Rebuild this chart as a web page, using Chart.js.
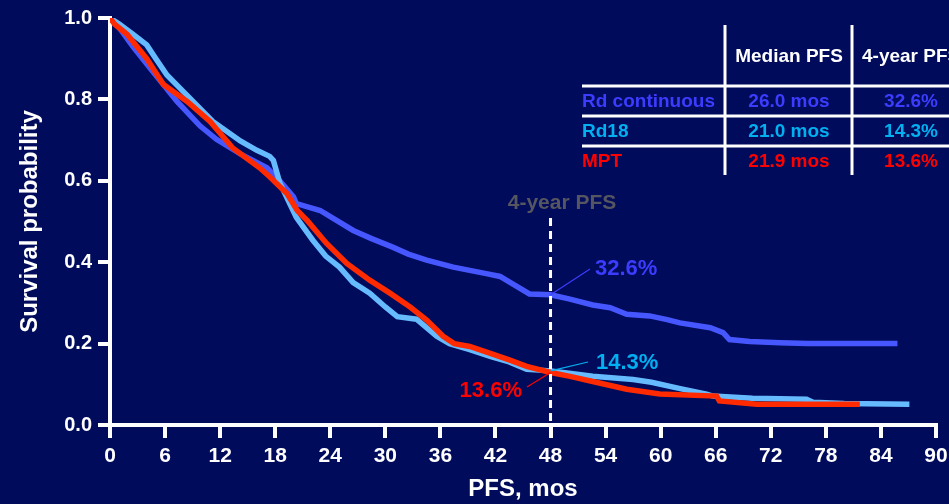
<!DOCTYPE html>
<html>
<head>
<meta charset="utf-8">
<script src="https://cdn.jsdelivr.net/npm/chart.js@4"></script>
<style>
  html, body { margin: 0; padding: 0; background: #010b5b; }
  #wrap { position: relative; width: 949px; height: 504px; }
</style>
</head>
<body>
<div id="wrap"><canvas id="pfsChart"></canvas></div>
<script>
// Kaplan-Meier curves: [month, survival probability]
const rdContinuous = [
  [0, 1.0], [1.1, 0.973], [2.5, 0.93], [4.4, 0.876], [7.3, 0.795], [9.8, 0.735],
  [11.6, 0.702], [14.2, 0.666], [17.1, 0.632], [18.5, 0.6], [20, 0.56], [20.3, 0.544],
  [22.9, 0.527], [24.5, 0.505], [26.5, 0.478], [28.5, 0.458], [30.8, 0.437], [32.5, 0.42],
  [34.5, 0.405], [37.4, 0.388], [41, 0.372], [42.5, 0.365], [44, 0.345], [45.7, 0.322],
  [48, 0.32], [50, 0.31], [52.6, 0.295], [54.5, 0.288], [56.3, 0.272], [58.8, 0.268],
  [60.7, 0.259], [62.1, 0.251], [65.4, 0.239], [66.8, 0.227], [67.5, 0.21], [69.7, 0.205],
  [73, 0.202], [76, 0.2], [85.8, 0.2]
];
const rd18 = [
  [0, 1.0], [1, 0.985], [2.5, 0.96], [4, 0.934], [5, 0.9], [6.2, 0.86], [8.4, 0.81],
  [11.2, 0.746], [14.2, 0.698], [16, 0.675], [17.4, 0.66], [17.8, 0.65], [18.5, 0.595],
  [20.3, 0.51], [22.1, 0.454], [23.5, 0.415], [25, 0.388], [26.5, 0.35], [28.3, 0.324],
  [30, 0.29], [31.3, 0.266], [33.4, 0.26], [35.6, 0.218], [37, 0.2], [39.2, 0.185],
  [41.5, 0.168], [43.5, 0.155], [45.4, 0.137], [48, 0.133], [50, 0.127], [52.6, 0.12],
  [57, 0.112], [59, 0.105], [62, 0.09], [65, 0.076], [65.7, 0.071], [70, 0.066],
  [75.9, 0.063], [76.6, 0.056], [80, 0.053], [87.1, 0.051]
];
const mpt = [
  [0, 1.0], [0.5, 0.985], [1.85, 0.96], [4, 0.9], [5.8, 0.837], [8.4, 0.795],
  [10.9, 0.746], [13.4, 0.68], [16.3, 0.632], [17.4, 0.61], [19.3, 0.568], [20.4, 0.527],
  [21.5, 0.502], [23.6, 0.446], [25.8, 0.397], [28.3, 0.356], [30.5, 0.324], [32.7, 0.29],
  [34.5, 0.258], [36.3, 0.218], [37.5, 0.2], [39.2, 0.193], [41.2, 0.178], [43.5, 0.16],
  [45.4, 0.144], [48, 0.129], [50, 0.12], [52.6, 0.107], [56.3, 0.088], [59.9, 0.076],
  [66.1, 0.071], [66.4, 0.059], [70.5, 0.051], [81.7, 0.051]
];

const seriesNames = ['Rd continuous', 'Rd18', 'MPT'];
const medianPFS = ['26.0 mos', '21.0 mos', '21.9 mos'];
const fourYearPFS = ['32.6%', '14.3%', '13.6%'];
const fourYearValues = [0.32, 0.133, 0.129];
const xTicks = [0, 6, 12, 18, 24, 30, 36, 42, 48, 54, 60, 66, 72, 78, 84, 90];
const landmarkMonth = 48;

const lineColors = ['#4657ff', '#66bbff', '#ff2a00'];
const textColors = ['#3c3cff', '#00b0f0', '#ff0000'];
const FONT = 'Arial, "Liberation Sans", Helvetica, sans-serif';

const toXY = arr => arr.map(p => ({ x: p[0], y: p[1] }));

// table + 4-year landmark annotations
const overlay = {
  id: 'overlay',
  afterDatasetsDraw(chart) {
    const ctx = chart.ctx;
    const xs = chart.scales.x, ys = chart.scales.y;
    const lx = xs.getPixelForValue(landmarkMonth);
    ctx.save();

    // dashed landmark line
    ctx.strokeStyle = '#ffffff';
    ctx.lineWidth = 3;
    ctx.setLineDash([8, 5]);
    ctx.beginPath();
    ctx.moveTo(lx, 218);
    ctx.lineTo(lx, ys.getPixelForValue(0));
    ctx.stroke();
    ctx.setLineDash([]);

    ctx.font = 'bold 21px ' + FONT;
    ctx.fillStyle = '#55565f';
    ctx.textAlign = 'center';
    ctx.textBaseline = 'middle';
    ctx.fillText('4-year PFS', 562, 203);

    // leader lines + labels
    const labelPos = [[595, 269, 590, 269, 'left'], [596, 363, 588, 362, 'left'], [522, 391, 527, 387, 'right']];
    ctx.font = 'bold 22px ' + FONT;
    fourYearPFS.forEach((txt, i) => {
      const py = ys.getPixelForValue(fourYearValues[i]);
      const [tx, ty, ex, ey, al] = labelPos[i];
      ctx.strokeStyle = textColors[i];
      ctx.lineWidth = 1.2;
      ctx.beginPath();
      ctx.moveTo(lx, py);
      ctx.lineTo(ex, ey);
      ctx.stroke();
      ctx.fillStyle = textColors[i];
      ctx.textAlign = al;
      ctx.fillText(txt, tx, ty);
    });

    // summary table
    ctx.strokeStyle = '#ffffff';
    ctx.lineWidth = 3;
    ctx.beginPath();
    [725, 852].forEach(x => { ctx.moveTo(x, 25); ctx.lineTo(x, 175); });
    [86, 116, 146].forEach(y => { ctx.moveTo(582, y); ctx.lineTo(949, y); });
    ctx.stroke();

    ctx.font = 'bold 19px ' + FONT;
    ctx.fillStyle = '#ffffff';
    ctx.textAlign = 'center';
    ctx.fillText('Median PFS', 789, 57);
    ctx.textAlign = 'left';
    ctx.fillText('4-year PFS', 862, 57);

    const rowY = [102, 132, 162];
    seriesNames.forEach((name, i) => {
      ctx.fillStyle = textColors[i];
      ctx.textAlign = 'left';
      ctx.fillText(name, 582, rowY[i]);
      ctx.textAlign = 'center';
      ctx.fillText(medianPFS[i], 789, rowY[i]);
      ctx.fillText(fourYearPFS[i], 911, rowY[i]);
    });
    ctx.restore();
  }
};

const ctx = document.getElementById('pfsChart').getContext('2d');
new Chart(ctx, {
  type: 'line',
  data: {
    datasets: [
      { label: seriesNames[2], data: toXY(mpt), borderColor: lineColors[2], order: 1 },
      { label: seriesNames[1], data: toXY(rd18), borderColor: lineColors[1], order: 2 },
      { label: seriesNames[0], data: toXY(rdContinuous), borderColor: lineColors[0], order: 3 }
    ]
  },
  options: {
    responsive: true,
    maintainAspectRatio: false,
    animation: false,
    layout: { padding: { top: 16, right: 13, left: 0, bottom: 0 } },
    elements: {
      line: { borderWidth: 5.5, tension: 0, fill: false, borderCapStyle: 'butt', borderJoinStyle: 'miter' },
      point: { radius: 0, hoverRadius: 0 }
    },
    plugins: { legend: { display: false }, tooltip: { enabled: false } },
    scales: {
      x: {
        type: 'linear',
        min: 0, max: 90,
        afterBuildTicks: s => { s.ticks = xTicks.map(v => ({ value: v })); },
        afterFit: s => { s.height = 79; s.paddingRight = 0; },
        border: { color: '#ffffff', width: 4 },
        grid: { drawOnChartArea: false, color: '#ffffff', lineWidth: 4, tickLength: 13 },
        ticks: { color: '#ffffff', padding: 6, maxRotation: 0, autoSkip: false,
                 font: { family: FONT, size: 21, weight: 'bold' } },
        title: { display: true, text: 'PFS, mos', color: '#ffffff', padding: { top: 0, bottom: 0 },
                 font: { family: FONT, size: 24, weight: 'bold' } }
      },
      y: {
        min: 0, max: 1,
        afterFit: s => { s.width = 110; },
        border: { color: '#ffffff', width: 4 },
        grid: { drawOnChartArea: false, color: '#ffffff', lineWidth: 4, tickLength: 12 },
        ticks: { color: '#ffffff', padding: 6, stepSize: 0.2,
                 callback: v => v.toFixed(1),
                 font: { family: FONT, size: 20, weight: 'bold' } },
        title: { display: true, text: 'Survival probability', color: '#ffffff', padding: { top: 16, bottom: 0 },
                 font: { family: FONT, size: 24, weight: 'bold' } }
      }
    }
  },
  plugins: [overlay]
});
</script>
</body>
</html>
